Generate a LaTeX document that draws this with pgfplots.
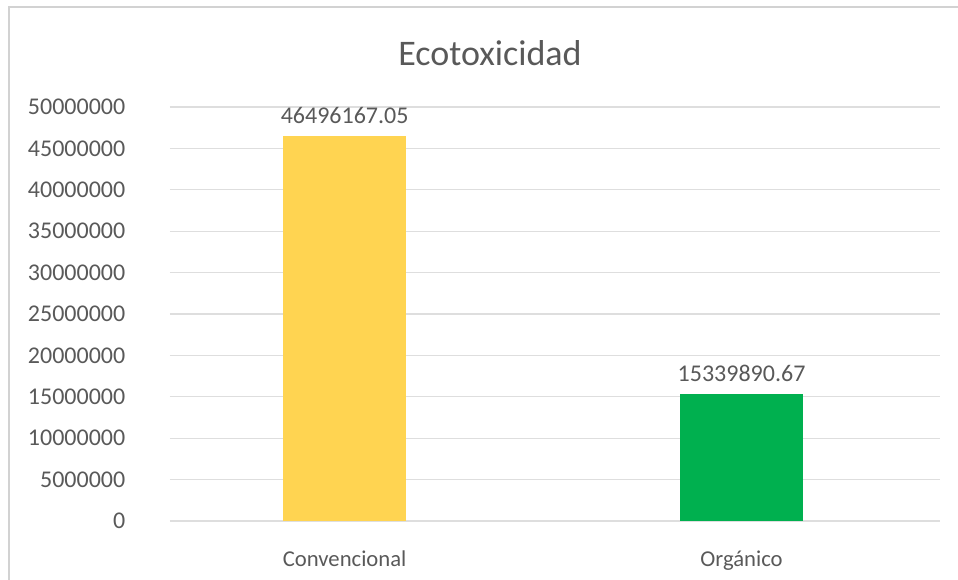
\documentclass[border=0pt]{standalone}
\usepackage{pgfplots}
\pgfplotsset{compat=1.18}
\usepackage{fontspec}
\setmainfont{Carlito}
\definecolor{txt}{HTML}{595959}
\definecolor{gridc}{HTML}{DEDEDE}
\definecolor{yel}{HTML}{FFD451}
\definecolor{grn}{HTML}{00B04F}
\begin{document}
\begin{tikzpicture}
\path[use as bounding box] (-127.5pt,-44.25pt) rectangle (591pt,390.75pt);
\begin{axis}[
  at={(0,0)}, anchor=south west,
  scale only axis,
  width=577.5pt, height=310.5pt,
  xmin=-0.44, xmax=1.5,
  ymin=0, ymax=50000000,
  ybar, bar width=92pt, bar shift=0pt,
  scaled y ticks=false,
  xtick={0,1}, xticklabels={Convencional,Orgánico},
  ytick={0,5000000,10000000,15000000,20000000,25000000,30000000,35000000,40000000,45000000,50000000},
  yticklabels={0,5000000,10000000,15000000,20000000,25000000,30000000,35000000,40000000,45000000,50000000},
  /pgf/number format/assume math mode=true,
  ymajorgrids, xmajorgrids=false,
  grid style={draw=gridc, line width=0.8pt},
  axis line style={draw=none},
  major tick style={draw=none}, minor tick style={draw=none},
  yticklabel style={font=\fontsize{18}{20}\selectfont, text=txt, anchor=east, xshift=-30pt},
  xticklabel style={font=\fontsize{17}{20}\selectfont, text=txt, anchor=base, yshift=-30pt},
  nodes near coords,
  point meta=explicit symbolic,
  every node near coord/.append style={font=\fontsize{18}{20}\selectfont, text=txt, anchor=south, yshift=6pt},
  clip=false,
]
\addplot[fill=yel, draw=none] coordinates {(0,46496167.05) [46496167.05]};
\addplot[fill=grn, draw=none] coordinates {(1,15339890.67) [15339890.67]};
\end{axis}
\draw[gray!35, line width=0.8pt] (-120.75pt,-44.25pt) -- (-120.75pt,385.5pt) -- (591pt,385.5pt);
\node[text=txt, font=\fontsize{27}{30}\selectfont] at (240pt,351pt) {Ecotoxicidad};
\end{tikzpicture}
\end{document}
